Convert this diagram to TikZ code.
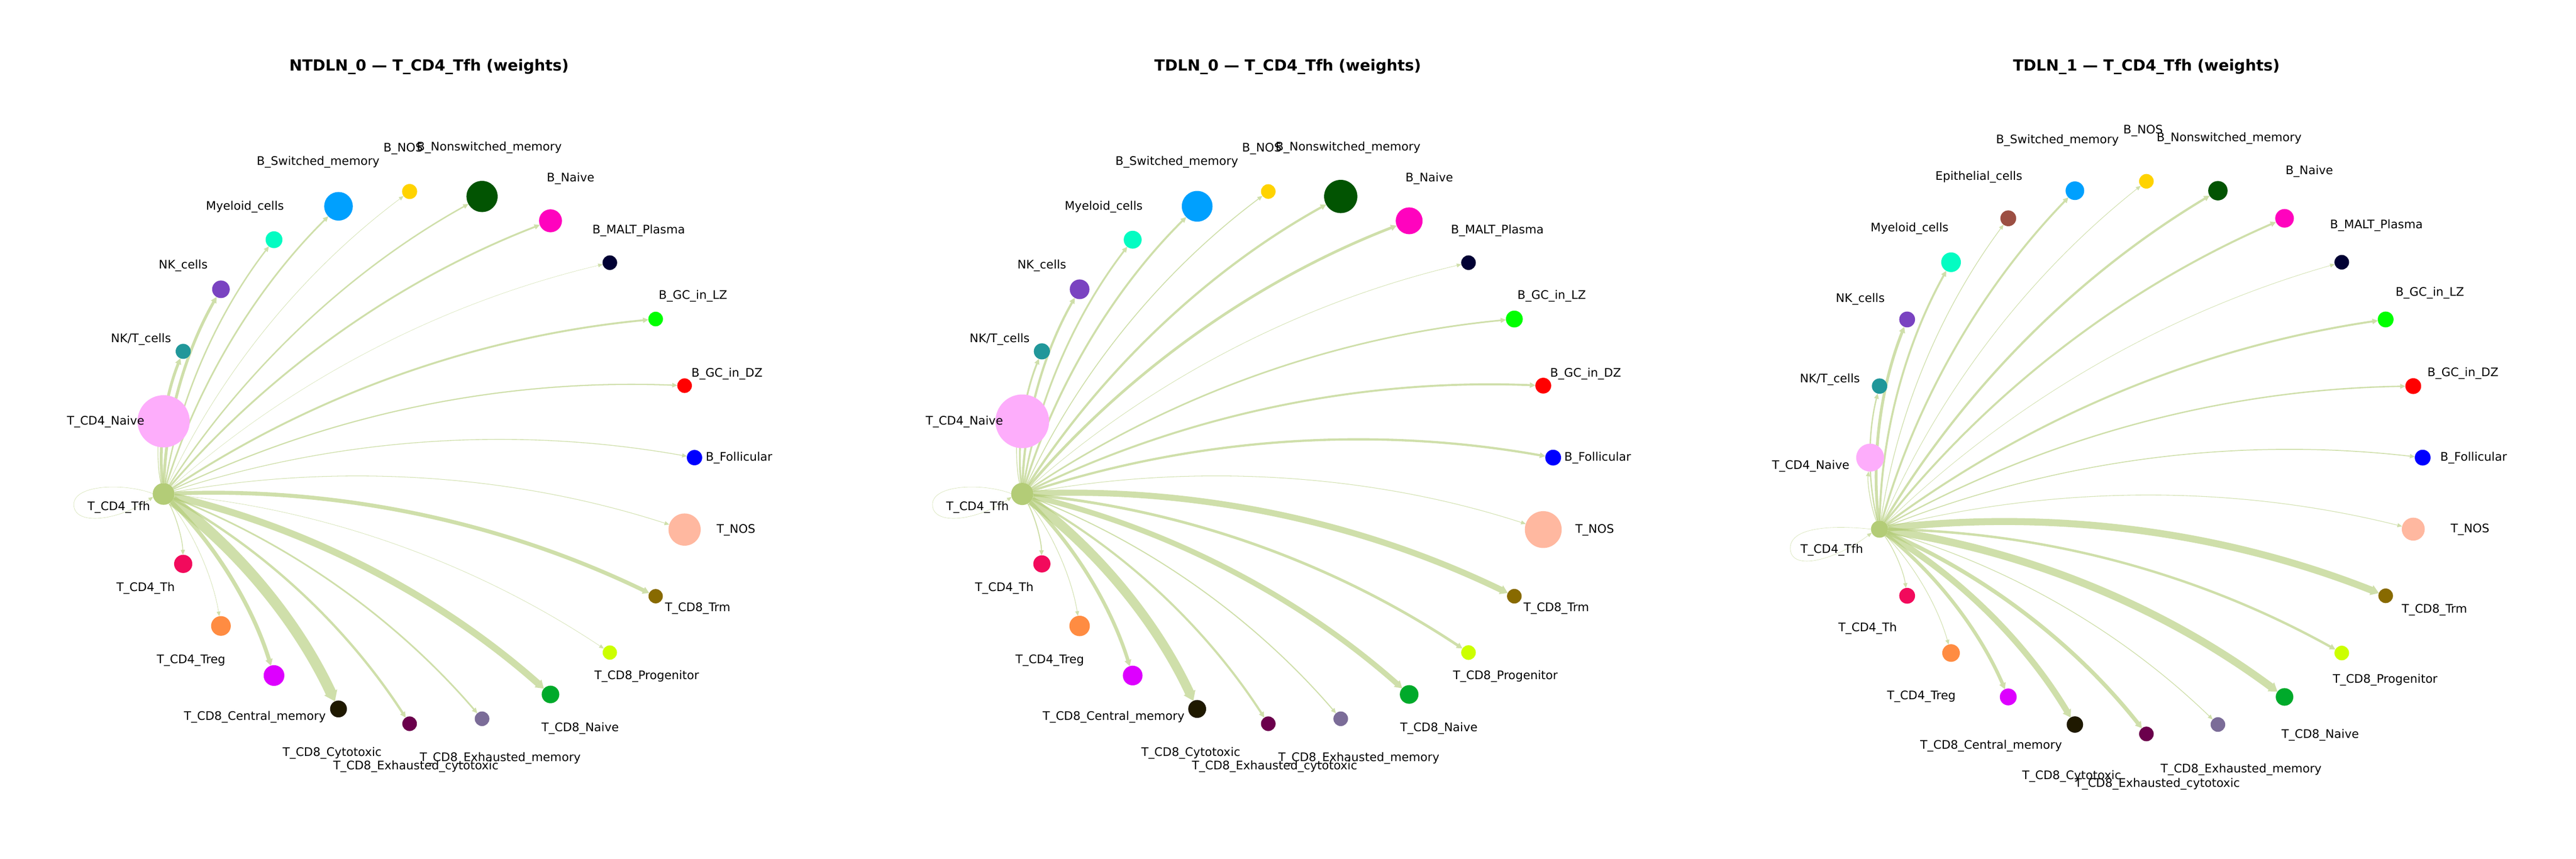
\documentclass[tikz,border=0pt]{standalone}
\usepackage{fontspec}
\setmainfont{DejaVu Sans}
\usetikzlibrary{calc,arrows.meta}
\pgfdeclarelayer{bg}
\pgfsetlayers{bg,main}
\definecolor{cTfh}{HTML}{B3CC77}
\definecolor{cNaive}{HTML}{FDADFB}
\definecolor{cNKT}{HTML}{21979A}
\definecolor{cNK}{HTML}{7A43C1}
\definecolor{cMyel}{HTML}{03FCC2}
\definecolor{cEpith}{HTML}{9C4F43}
\definecolor{cBSw}{HTML}{00A0FE}
\definecolor{cBNOS}{HTML}{FFD300}
\definecolor{cBNon}{HTML}{025402}
\definecolor{cBNai}{HTML}{FF03BE}
\definecolor{cBMALT}{HTML}{010134}
\definecolor{cLZ}{HTML}{01FF01}
\definecolor{cDZ}{HTML}{FF0000}
\definecolor{cFoll}{HTML}{0000FF}
\definecolor{cTNOS}{HTML}{FFB8A0}
\definecolor{cTrm}{HTML}{886A00}
\definecolor{cProg}{HTML}{CCFF00}
\definecolor{cCNai}{HTML}{00AA2B}
\definecolor{cExM}{HTML}{7B6C98}
\definecolor{cExC}{HTML}{6B004C}
\definecolor{cCyt}{HTML}{1F1900}
\definecolor{cCen}{HTML}{DD00FF}
\definecolor{cTreg}{HTML}{FF8C42}
\definecolor{cTh}{HTML}{F20A5C}
\definecolor{cEdge}{HTML}{B3CC77}
\tikzset{
  nd/.style={circle, fill=#1, draw=none, inner sep=0pt, outer sep=0pt},
  lbl/.style={font=\fontsize{7.93}{9.5}\selectfont, inner sep=0pt, text height=5.8pt, text depth=0pt, anchor=center},
  ttl/.style={font=\fontsize{10.34}{12}\selectfont\bfseries, inner sep=0pt, text height=7.55pt, text depth=0pt, anchor=center},
  edgeline/.style={draw=cEdge, opacity=0.62, -{Triangle[length=3bp 0.5, width=2.4bp 1, line width=0pt]}},
}
\newcommand\cellnode[6]{\path (#1c) ++({-(#3)}:#4) node[nd=#5, minimum size=#6bp] (#1#2) {};}
\newcommand\celllabel[4]{\node[lbl] (#1) at (#2,#3) {#4};}
\newcommand\tfhedge[3]{%
  \path ($(#1Tfh)!0.5!(#1#2)!0.25!90:(#1#2)$) coordinate (ctl);
  \draw[edgeline, line width=#3bp] (#1Tfh) .. controls ($(#1Tfh)!0.6667!(ctl)$) and ($(#1#2)!0.6667!(ctl)$) .. (#1#2);}
\begin{document}
\begin{tikzpicture}[x=0.012959cm, y=-0.012959cm]
\useasboundingbox (0,0) rectangle (4704,1568);
\begin{pgfonlayer}{bg}
\fill[white] (0,0) rectangle (4704,1568);
\end{pgfonlayer}

% ================= Panel 1 =================
\begin{scope}
\coordinate (ac) at (781.2,835.5);
\node[ttl] (aTitle) at (783.5,119.5) {NTDLN\_0 — T\_CD4\_Tfh (weights)};
\cellnode{a}{Foll}{0*360/23}{487}{cFoll}{10.3}
\cellnode{a}{DZ}{1*360/23}{487}{cDZ}{9.8}
\cellnode{a}{LZ}{2*360/23}{487}{cLZ}{9.8}
\cellnode{a}{BMALT}{3*360/23}{487}{cBMALT}{9.8}
\cellnode{a}{BNai}{4*360/23}{487}{cBNai}{15.4}
\cellnode{a}{BNon}{5*360/23}{487}{cBNon}{20.9}
\cellnode{a}{BNOS}{6*360/23}{487}{cBNOS}{10.1}
\cellnode{a}{BSw}{7*360/23}{487}{cBSw}{19.2}
\cellnode{a}{Myel}{8*360/23}{487}{cMyel}{11.3}
\cellnode{a}{NK}{9*360/23}{487}{cNK}{11.8}
\cellnode{a}{NKT}{10*360/23}{487}{cNKT}{10.1}
\cellnode{a}{Naive}{11*360/23}{487}{cNaive}{35}
\cellnode{a}{Tfh}{12*360/23}{487}{cTfh}{14.6}
\cellnode{a}{Th}{13*360/23}{487}{cTh}{12.2}
\cellnode{a}{Treg}{14*360/23}{487}{cTreg}{13.2}
\cellnode{a}{Cen}{15*360/23}{487}{cCen}{13.9}
\cellnode{a}{Cyt}{16*360/23}{487}{cCyt}{11.3}
\cellnode{a}{ExC}{17*360/23}{487}{cExC}{9.8}
\cellnode{a}{ExM}{18*360/23}{487}{cExM}{9.8}
\cellnode{a}{CNai}{19*360/23}{487}{cCNai}{11.8}
\cellnode{a}{Prog}{20*360/23}{487}{cProg}{9.6}
\cellnode{a}{Trm}{21*360/23}{487}{cTrm}{9.6}
\cellnode{a}{TNOS}{22*360/23}{487}{cTNOS}{21.6}
\celllabel{aL1}{217}{924}{T\_CD4\_Tfh}
\celllabel{aL2}{193}{768}{T\_CD4\_Naive}
\celllabel{aL3}{257.5}{617.5}{NK/T\_cells}
\celllabel{aL4}{334.5}{483}{NK\_cells}
\celllabel{aL5}{447.3}{375.5}{Myeloid\_cells}
\celllabel{aL6}{581}{294}{B\_Switched\_memory}
\celllabel{aL7}{736.3}{269}{B\_NOS}
\celllabel{aL8}{893.5}{267}{B\_Nonswitched\_memory}
\celllabel{aL9}{1042}{323.5}{B\_Naive}
\celllabel{aL10}{1166.3}{418.5}{B\_MALT\_Plasma}
\celllabel{aL11}{1265.5}{538}{B\_GC\_in\_LZ}
\celllabel{aL12}{1327.5}{680.5}{B\_GC\_in\_DZ}
\celllabel{aL13}{1349.5}{834}{B\_Follicular}
\celllabel{aL14}{1344}{965}{T\_NOS}
\celllabel{aL15}{1274}{1108.5}{T\_CD8\_Trm}
\celllabel{aL16}{1181}{1232.5}{T\_CD8\_Progenitor}
\celllabel{aL17}{1059.5}{1327.5}{T\_CD8\_Naive}
\celllabel{aL18}{913.5}{1382.5}{T\_CD8\_Exhausted\_memory}
\celllabel{aL19}{759.5}{1397.5}{T\_CD8\_Exhausted\_cytotoxic}
\celllabel{aL20}{606.5}{1372.5}{T\_CD8\_Cytotoxic}
\celllabel{aL21}{465.5}{1307}{T\_CD8\_Central\_memory}
\celllabel{aL22}{349}{1203.5}{T\_CD4\_Treg}
\celllabel{aL23}{266}{1071.5}{T\_CD4\_Th}
\begin{pgfonlayer}{bg}
\tfhedge{a}{Naive}{0.48}
\tfhedge{a}{NKT}{1.92}
\tfhedge{a}{NK}{1.92}
\tfhedge{a}{Myel}{0.96}
\tfhedge{a}{BSw}{1.08}
\tfhedge{a}{BNOS}{0.26}
\tfhedge{a}{BNon}{0.96}
\tfhedge{a}{BNai}{1.2}
\tfhedge{a}{BMALT}{0.19}
\tfhedge{a}{LZ}{1.27}
\tfhedge{a}{DZ}{0.79}
\tfhedge{a}{Foll}{0.48}
\tfhedge{a}{TNOS}{0.36}
\tfhedge{a}{Trm}{2.64}
\tfhedge{a}{Prog}{0.24}
\tfhedge{a}{CNai}{4.56}
\tfhedge{a}{ExM}{1.08}
\tfhedge{a}{ExC}{1.58}
\tfhedge{a}{Cyt}{7.2}
\tfhedge{a}{Cen}{2.64}
\tfhedge{a}{Treg}{0.26}
\tfhedge{a}{Th}{0.53}
\draw[edgeline, line width=0.2bp] (aTfh.178) .. controls ($(aTfh)+(-70,-20)$) and ($(aTfh)+(-165,-18)$) .. ($(aTfh)+(-164,20)$) .. controls ($(aTfh)+(-163,58)$) and ($(aTfh)+(-85,50)$) .. (aTfh.196);
\end{pgfonlayer}
\end{scope}

% ================= Panel 2 =================
\begin{scope}[shift={(1568,0)}]
\coordinate (bc) at (781.2,835.5);
\node[ttl] (bTitle) at (783.5,119.5) {TDLN\_0 — T\_CD4\_Tfh (weights)};
\cellnode{b}{Foll}{0*360/23}{487}{cFoll}{10.6}
\cellnode{b}{DZ}{1*360/23}{487}{cDZ}{10.6}
\cellnode{b}{LZ}{2*360/23}{487}{cLZ}{11.3}
\cellnode{b}{BMALT}{3*360/23}{487}{cBMALT}{9.8}
\cellnode{b}{BNai}{4*360/23}{487}{cBNai}{18}
\cellnode{b}{BNon}{5*360/23}{487}{cBNon}{22.3}
\cellnode{b}{BNOS}{6*360/23}{487}{cBNOS}{9.8}
\cellnode{b}{BSw}{7*360/23}{487}{cBSw}{20.6}
\cellnode{b}{Myel}{8*360/23}{487}{cMyel}{12}
\cellnode{b}{NK}{9*360/23}{487}{cNK}{13.2}
\cellnode{b}{NKT}{10*360/23}{487}{cNKT}{10.8}
\cellnode{b}{Naive}{11*360/23}{487}{cNaive}{36}
\cellnode{b}{Tfh}{12*360/23}{487}{cTfh}{14.9}
\cellnode{b}{Th}{13*360/23}{487}{cTh}{11.5}
\cellnode{b}{Treg}{14*360/23}{487}{cTreg}{13.7}
\cellnode{b}{Cen}{15*360/23}{487}{cCen}{13.2}
\cellnode{b}{Cyt}{16*360/23}{487}{cCyt}{12}
\cellnode{b}{ExC}{17*360/23}{487}{cExC}{9.8}
\cellnode{b}{ExM}{18*360/23}{487}{cExM}{9.8}
\cellnode{b}{CNai}{19*360/23}{487}{cCNai}{12.5}
\cellnode{b}{Prog}{20*360/23}{487}{cProg}{9.8}
\cellnode{b}{Trm}{21*360/23}{487}{cTrm}{9.8}
\cellnode{b}{TNOS}{22*360/23}{487}{cTNOS}{24.7}
\celllabel{bL1}{217}{924}{T\_CD4\_Tfh}
\celllabel{bL2}{193}{768}{T\_CD4\_Naive}
\celllabel{bL3}{257.5}{617.5}{NK/T\_cells}
\celllabel{bL4}{334.5}{483}{NK\_cells}
\celllabel{bL5}{447.3}{375.5}{Myeloid\_cells}
\celllabel{bL6}{581}{294}{B\_Switched\_memory}
\celllabel{bL7}{736.3}{269}{B\_NOS}
\celllabel{bL8}{893.5}{267}{B\_Nonswitched\_memory}
\celllabel{bL9}{1042}{323.5}{B\_Naive}
\celllabel{bL10}{1166.3}{418.5}{B\_MALT\_Plasma}
\celllabel{bL11}{1265.5}{538}{B\_GC\_in\_LZ}
\celllabel{bL12}{1327.5}{680.5}{B\_GC\_in\_DZ}
\celllabel{bL13}{1349.5}{834}{B\_Follicular}
\celllabel{bL14}{1344}{965}{T\_NOS}
\celllabel{bL15}{1274}{1108.5}{T\_CD8\_Trm}
\celllabel{bL16}{1181}{1232.5}{T\_CD8\_Progenitor}
\celllabel{bL17}{1059.5}{1327.5}{T\_CD8\_Naive}
\celllabel{bL18}{913.5}{1382.5}{T\_CD8\_Exhausted\_memory}
\celllabel{bL19}{759.5}{1397.5}{T\_CD8\_Exhausted\_cytotoxic}
\celllabel{bL20}{606.5}{1372.5}{T\_CD8\_Cytotoxic}
\celllabel{bL21}{465.5}{1307}{T\_CD8\_Central\_memory}
\celllabel{bL22}{349}{1203.5}{T\_CD4\_Treg}
\celllabel{bL23}{266}{1071.5}{T\_CD4\_Th}
\begin{pgfonlayer}{bg}
\tfhedge{b}{Naive}{0.48}
\tfhedge{b}{NKT}{1.2}
\tfhedge{b}{NK}{1.51}
\tfhedge{b}{Myel}{1.2}
\tfhedge{b}{BSw}{1.34}
\tfhedge{b}{BNOS}{0.6}
\tfhedge{b}{BNon}{1.51}
\tfhedge{b}{BNai}{1.8}
\tfhedge{b}{BMALT}{0.29}
\tfhedge{b}{LZ}{1.06}
\tfhedge{b}{DZ}{1.34}
\tfhedge{b}{Foll}{1.51}
\tfhedge{b}{TNOS}{0.36}
\tfhedge{b}{Trm}{4.08}
\tfhedge{b}{Prog}{1.8}
\tfhedge{b}{CNai}{3.6}
\tfhedge{b}{ExM}{0.72}
\tfhedge{b}{ExC}{1.44}
\tfhedge{b}{Cyt}{6.24}
\tfhedge{b}{Cen}{2.33}
\tfhedge{b}{Treg}{0.36}
\tfhedge{b}{Th}{0.72}
\draw[edgeline, line width=0.2bp] (bTfh.178) .. controls ($(bTfh)+(-70,-20)$) and ($(bTfh)+(-165,-18)$) .. ($(bTfh)+(-164,20)$) .. controls ($(bTfh)+(-163,58)$) and ($(bTfh)+(-85,50)$) .. (bTfh.196);
\end{pgfonlayer}
\end{scope}

% ================= Panel 3 =================
\begin{scope}[shift={(3136,0)}]
\coordinate (cc) at (783.5,835.5);
\node[ttl] (cTitle) at (783.5,119.5) {TDLN\_1 — T\_CD4\_Tfh (weights)};
\cellnode{c}{Foll}{0}{504.5}{cFoll}{10.6}
\cellnode{c}{DZ}{15}{504.5}{cDZ}{10.6}
\cellnode{c}{LZ}{30}{504.5}{cLZ}{10.6}
\cellnode{c}{BMALT}{45}{504.5}{cBMALT}{9.8}
\cellnode{c}{BNai}{60}{504.5}{cBNai}{12.5}
\cellnode{c}{BNon}{75}{504.5}{cBNon}{13}
\cellnode{c}{BNOS}{90}{504.5}{cBNOS}{9.8}
\cellnode{c}{BSw}{105}{504.5}{cBSw}{12.5}
\cellnode{c}{Epith}{120}{504.5}{cEpith}{10.6}
\cellnode{c}{Myel}{135}{504.5}{cMyel}{13.2}
\cellnode{c}{NK}{150}{504.5}{cNK}{10.6}
\cellnode{c}{NKT}{165}{504.5}{cNKT}{10.3}
\cellnode{c}{Naive}{180}{504.5}{cNaive}{18.7}
\cellnode{c}{Tfh}{195}{504.5}{cTfh}{11.5}
\cellnode{c}{Th}{210}{504.5}{cTh}{10.6}
\cellnode{c}{Treg}{225}{504.5}{cTreg}{11.8}
\cellnode{c}{Cen}{240}{504.5}{cCen}{11.3}
\cellnode{c}{Cyt}{255}{504.5}{cCyt}{11}
\cellnode{c}{ExC}{270}{504.5}{cExC}{9.8}
\cellnode{c}{ExM}{285}{504.5}{cExM}{9.8}
\cellnode{c}{CNai}{300}{504.5}{cCNai}{11.8}
\cellnode{c}{Prog}{315}{504.5}{cProg}{9.8}
\cellnode{c}{Trm}{330}{504.5}{cTrm}{9.8}
\cellnode{c}{TNOS}{345}{504.5}{cTNOS}{15.4}
\celllabel{cL1}{209}{1002}{T\_CD4\_Tfh}
\celllabel{cL2}{170.5}{849}{T\_CD4\_Naive}
\celllabel{cL3}{205.5}{691}{NK/T\_cells}
\celllabel{cL4}{261}{544}{NK\_cells}
\celllabel{cL5}{351}{415}{Myeloid\_cells}
\celllabel{cL6}{477.5}{321}{Epithelial\_cells}
\celllabel{cL7}{621}{254}{B\_Switched\_memory}
\celllabel{cL8}{777.5}{236}{B\_NOS}
\celllabel{cL9}{934.5}{250}{B\_Nonswitched\_memory}
\celllabel{cL10}{1081}{311}{B\_Naive}
\celllabel{cL11}{1203.5}{409}{B\_MALT\_Plasma}
\celllabel{cL12}{1301}{533}{B\_GC\_in\_LZ}
\celllabel{cL13}{1361.5}{679}{B\_GC\_in\_DZ}
\celllabel{cL14}{1381}{834}{B\_Follicular}
\celllabel{cL15}{1374.5}{964}{T\_NOS}
\celllabel{cL16}{1309.5}{1111}{T\_CD8\_Trm}
\celllabel{cL17}{1219.5}{1239}{T\_CD8\_Progenitor}
\celllabel{cL18}{1101}{1340}{T\_CD8\_Naive}
\celllabel{cL19}{956.5}{1403}{T\_CD8\_Exhausted\_memory}
\celllabel{cL20}{803.5}{1429}{T\_CD8\_Exhausted\_cytotoxic}
\celllabel{cL21}{647}{1415}{T\_CD8\_Cytotoxic}
\celllabel{cL22}{500}{1360}{T\_CD8\_Central\_memory}
\celllabel{cL23}{372.5}{1269}{T\_CD4\_Treg}
\celllabel{cL24}{274.5}{1145}{T\_CD4\_Th}
\begin{pgfonlayer}{bg}
\tfhedge{c}{Naive}{0.48}
\tfhedge{c}{NKT}{0.91}
\tfhedge{c}{NK}{1.92}
\tfhedge{c}{Myel}{1.34}
\tfhedge{c}{Epith}{0.46}
\tfhedge{c}{BSw}{1.34}
\tfhedge{c}{BNOS}{0.36}
\tfhedge{c}{BNon}{1.51}
\tfhedge{c}{BNai}{1.34}
\tfhedge{c}{BMALT}{0.29}
\tfhedge{c}{LZ}{1.34}
\tfhedge{c}{DZ}{0.91}
\tfhedge{c}{Foll}{0.6}
\tfhedge{c}{TNOS}{0.38}
\tfhedge{c}{Trm}{4.68}
\tfhedge{c}{Prog}{1.61}
\tfhedge{c}{CNai}{5.04}
\tfhedge{c}{ExM}{0.48}
\tfhedge{c}{ExC}{2.64}
\tfhedge{c}{Cyt}{4.08}
\tfhedge{c}{Cen}{2.3}
\tfhedge{c}{Treg}{0.36}
\tfhedge{c}{Th}{0.48}
\draw[edgeline, line width=0.2bp] (cTfh.180) .. controls ($(cTfh)+(-70,-6)$) and ($(cTfh)+(-165,-8)$) .. ($(cTfh)+(-163,36)$) .. controls ($(cTfh)+(-161,78)$) and ($(cTfh)+(-80,56)$) .. (cTfh.205);
\end{pgfonlayer}
\end{scope}
\end{tikzpicture}
\end{document}
